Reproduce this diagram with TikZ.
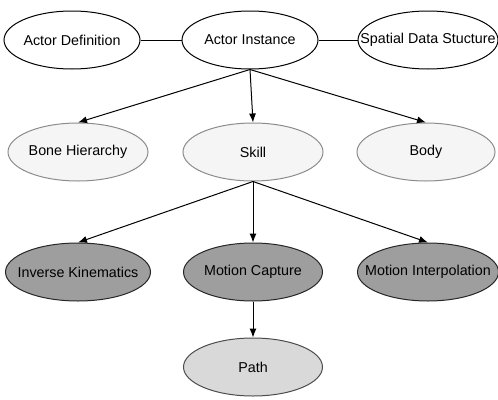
\documentclass[tikz,border=0pt]{standalone}
\usepackage{fontspec}
\setmainfont{Liberation Sans}
\usetikzlibrary{shapes.geometric,arrows.meta}
\newcommand{\nolbl}[1]{\makebox[0pt]{#1}}
\begin{document}
\begin{tikzpicture}[x=1pt,y=-1pt,
		every node/.style={font=\fontsize{14.3}{16}\selectfont},
		plain/.style={ellipse,draw,line width=1pt,minimum width=136pt,minimum height=58pt,inner sep=0pt},
		light/.style={plain,draw=black!45,fill=black!4},
		dark/.style={plain,draw=black!85,fill=black!38},
		pale/.style={plain,draw=black!70,fill=black!15},
		link/.style={line width=1pt},
		arr/.style={line width=1pt,-{Latex[length=9pt,width=7pt]}}]
			\useasboundingbox (0,0) rectangle (498,399);
			\node[plain] (def) at (72,40) {\nolbl{Actor Definition}};
			\node[plain] (inst) at (250,40) {\nolbl{Actor Instance}};
			\node[plain,minimum width=140pt] (spat) at (428,40) {\nolbl{Spatial Data Stucture}};
			\node[light,minimum width=140pt] (bone) at (78,152) {\nolbl{Bone Hierarchy}};
			\node[light,minimum width=140pt] (skill) at (253,152) {\nolbl{Skill}};
			\node[light,minimum width=138pt] (body) at (426,152) {\nolbl{Body}};
			\node[dark,minimum width=145pt] (ik) at (78,272) {\nolbl{Inverse Kinematics}};
			\node[dark,minimum width=139pt] (mocap) at (253,272) {\nolbl{Motion Capture}};
			\node[dark,minimum width=141pt] (interp) at (428,272) {\nolbl{Motion Interpolation}};
			\node[pale,minimum width=139pt] (path) at (253,367) {\nolbl{Path}};
			\draw[link] (def) -- (inst);
			\draw[link] (inst) -- (spat);
			\draw[arr] (inst.south) -- (bone.north);
			\draw[arr] (inst.south) -- (skill.north);
			\draw[arr] (inst.south) -- (body.north);
			\draw[arr] (skill.south) -- (ik.north);
			\draw[arr] (skill.south) -- (mocap.north);
			\draw[arr] (skill.south) -- (interp.north);
			\draw[arr] (mocap.south) -- (path.north);
		\end{tikzpicture}
\end{document}
